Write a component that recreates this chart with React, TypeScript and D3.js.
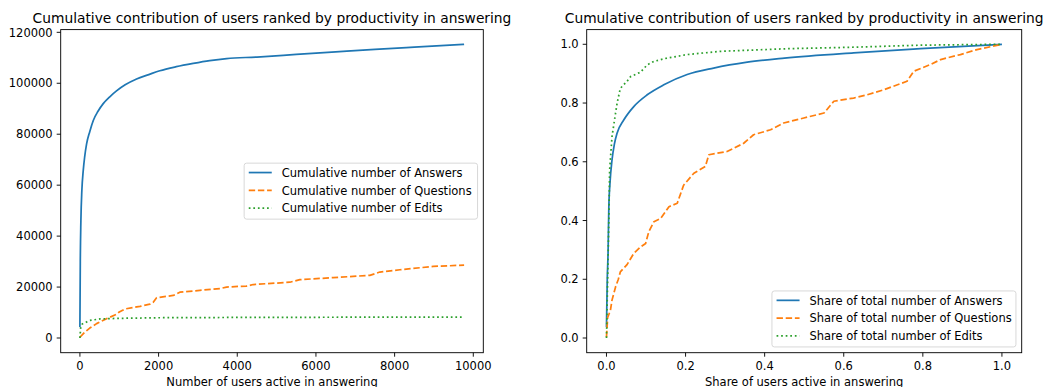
import React from 'react';
import * as d3 from 'd3';

type P = [number, number];

// ---- Left panel: cumulative counts vs number of users ----
const cumAnswers: P[] = [
  [0, 4300], [10, 30000], [25, 46000], [50, 58000], [85, 65800], [120, 71000], [170, 76200],
  [250, 81000], [340, 85400], [460, 89000], [593, 92000], [760, 94700], [930, 97000],
  [1150, 99400], [1440, 101700], [1750, 103400], [2030, 104900], [2450, 106500], [2880, 107800],
  [3300, 108900], [3730, 109700], [4500, 110300], [5500, 111300], [6500, 112300], [7500, 113300],
  [8500, 114200], [9766, 115300],
];
const cumQuestions: P[] = [
  [0, 300], [127, 2350], [250, 3900], [424, 5650], [678, 7600], [932, 9300], [1000, 10200],
  [1144, 11400], [1525, 12400], [1780, 13300], [1864, 14000], [1949, 15800], [2372, 16700],
  [2541, 18000], [3050, 18700], [3558, 19400], [3727, 20000], [4235, 20400], [4405, 21000],
  [5337, 21900], [5591, 22900], [6438, 23700], [7370, 24600], [7624, 25900], [8132, 26800],
  [8979, 28100], [9766, 28600],
];
const cumEdits: P[] = [
  [0, 0], [20, 4300], [60, 5500], [170, 6300], [254, 6900], [508, 7500], [975, 7720],
  [1950, 7950], [4400, 8100], [9766, 8240],
];

// ---- Right panel: shares ----
const shareAnswers: P[] = [
  [0, 0.0375], [0.002, 0.2], [0.004, 0.288], [0.006, 0.447], [0.009, 0.53], [0.014, 0.606],
  [0.02, 0.66], [0.027, 0.698], [0.044, 0.743], [0.069, 0.788], [0.103, 0.828], [0.145, 0.862],
  [0.204, 0.897], [0.271, 0.919], [0.356, 0.939], [0.45, 0.953], [0.625, 0.971], [0.794, 0.985],
  [1, 1],
];
const shareQuestions: P[] = [
  [0, 0.003], [0.003, 0.07], [0.01, 0.094], [0.014, 0.129], [0.023, 0.174], [0.03, 0.2],
  [0.035, 0.225], [0.052, 0.25], [0.069, 0.288], [0.086, 0.31], [0.099, 0.322], [0.107, 0.362],
  [0.12, 0.396], [0.137, 0.407], [0.158, 0.447], [0.179, 0.459], [0.195, 0.52], [0.221, 0.561],
  [0.25, 0.584], [0.259, 0.624], [0.305, 0.635], [0.347, 0.663], [0.372, 0.692], [0.415, 0.709],
  [0.448, 0.732], [0.499, 0.749], [0.55, 0.766], [0.575, 0.806], [0.625, 0.817], [0.659, 0.828],
  [0.701, 0.845], [0.76, 0.874], [0.777, 0.908], [0.819, 0.931], [0.845, 0.948], [0.895, 0.965],
  [0.937, 0.982], [1, 1],
];
const shareEdits: P[] = [
  [0, 0], [0.0017, 0.117], [0.006, 0.4], [0.008, 0.572], [0.014, 0.686], [0.023, 0.766],
  [0.027, 0.8], [0.035, 0.85], [0.052, 0.874], [0.061, 0.89], [0.086, 0.905], [0.103, 0.93],
  [0.12, 0.942], [0.153, 0.953], [0.204, 0.965], [0.288, 0.976], [0.457, 0.985], [0.625, 0.99],
  [0.794, 0.997], [1, 1],
];

const leftXTicks = [0, 2000, 4000, 6000, 8000, 10000];
const leftYTicks = [0, 20000, 40000, 60000, 80000, 100000, 120000];
const rightTicks = [0, 0.2, 0.4, 0.6, 0.8, 1.0];

const leftLabels = ['Cumulative number of Answers', 'Cumulative number of Questions', 'Cumulative number of Edits'];
const rightLabels = ['Share of total number of Answers', 'Share of total number of Questions', 'Share of total number of Edits'];
const colors = ['#1f77b4', '#ff7f0e', '#2ca02c'];
const dashes = ['none', '6.4,2.76', '1.72,2.85'];
const chartTitle = 'Cumulative contribution of users ranked by productivity in answering';
const leftXLabel = 'Number of users active in answering';
const rightXLabel = 'Share of users active in answering';

const FONT = '"DejaVu Sans", sans-serif';
const FS = 11.5;
const LW = 1.725;
const SW = 0.92;

type Box = { x0: number; x1: number; y0: number; y1: number };

function Panel(props: {
  box: Box;
  series: P[][];
  smooth: boolean[];
  xTicks: number[];
  yTicks: number[];
  fmt: (v: number) => string;
  title: string;
  xLabel: string;
  labels: string[];
  legendW: number;
  legendLoc: 'center right' | 'lower right';
}) {
  const { box, series, smooth, xTicks, yTicks, fmt, title, xLabel, labels, legendW, legendLoc } = props;
  const all = series.flat();
  const [xmin, xmax] = d3.extent(all, (d) => d[0]) as [number, number];
  const [ymin, ymax] = d3.extent(all, (d) => d[1]) as [number, number];
  const xp = (xmax - xmin) * 0.05;
  const yp = (ymax - ymin) * 0.05;
  const x = d3.scaleLinear().domain([xmin - xp, xmax + xp]).range([box.x0, box.x1]);
  const y = d3.scaleLinear().domain([ymin - yp, ymax + yp]).range([box.y1, box.y0]);

  const lineSmooth = d3.line<P>().x((d) => x(d[0])).y((d) => y(d[1])).curve(d3.curveMonotoneX);
  const lineLin = d3.line<P>().x((d) => x(d[0])).y((d) => y(d[1]));

  const lh = 56;
  const lx = box.x1 - 5.75 - legendW;
  const ly = legendLoc === 'center right' ? (box.y0 + box.y1) / 2 - lh / 2 : box.y1 - 5.75 - lh;
  const rows = [9.4, 27.2, 44.9];
  const cx = (box.x0 + box.x1) / 2;
  const tick = 4.0;

  return (
    <g>
      <text x={cx} y={22.9} textAnchor="middle" fontSize={13.8} fill="#000" fontFamily={FONT}>
        {title}
      </text>
      {series.map((s, i) => (
        <path
          key={i}
          d={(smooth[i] ? lineSmooth : lineLin)(s) || ''}
          fill="none"
          stroke={colors[i]}
          strokeWidth={LW}
          strokeDasharray={dashes[i]}
          strokeLinejoin="round"
        />
      ))}
      <rect x={box.x0} y={box.y0} width={box.x1 - box.x0} height={box.y1 - box.y0} fill="none" stroke="#000" strokeWidth={SW} />
      {xTicks.map((t) => (
        <g key={'x' + t}>
          <line x1={x(t)} x2={x(t)} y1={box.y1} y2={box.y1 + tick} stroke="#000" strokeWidth={SW} />
          <text x={x(t)} y={box.y1 + 16.8} textAnchor="middle" fontSize={FS} fill="#000" fontFamily={FONT}>
            {fmt(t)}
          </text>
        </g>
      ))}
      {yTicks.map((t) => (
        <g key={'y' + t}>
          <line x1={box.x0 - tick} x2={box.x0} y1={y(t)} y2={y(t)} stroke="#000" strokeWidth={SW} />
          <text x={box.x0 - 8} y={y(t) + 4.2} textAnchor="end" fontSize={FS} fill="#000" fontFamily={FONT}>
            {fmt(t)}
          </text>
        </g>
      ))}
      <text x={cx} y={386} textAnchor="middle" fontSize={FS} fill="#000" fontFamily={FONT}>
        {xLabel}
      </text>
      <rect x={lx} y={ly} width={legendW} height={lh} rx={2.5} ry={2.5} fill="#fff" fillOpacity={0.8} stroke="#d4d4d4" strokeWidth={SW} />
      {labels.map((lab, i) => (
        <g key={lab}>
          <line x1={lx + 4.6} x2={lx + 27.6} y1={ly + rows[i]} y2={ly + rows[i]} stroke={colors[i]} strokeWidth={LW} strokeDasharray={dashes[i]} />
          <text x={lx + 37.5} y={ly + rows[i] + 4.2} fontSize={FS} fill="#000" fontFamily={FONT}>
            {lab}
          </text>
        </g>
      ))}
    </g>
  );
}

export default function App() {
  const leftBox: Box = { x0: 60.7, x1: 483.3, y0: 29.6, y1: 352.7 };
  const rightBox: Box = { x0: 586.7, x1: 1021.7, y0: 29.6, y1: 352.7 };
  return (
    <svg width={1048} height={387} style={{ position: 'absolute', left: 0, top: 0, background: '#fff' }}>
      <rect x={0} y={0} width={1048} height={387} fill="#fff" />
      <Panel
        box={leftBox}
        series={[cumAnswers, cumQuestions, cumEdits]}
        smooth={[true, false, false]}
        xTicks={leftXTicks}
        yTicks={leftYTicks}
        fmt={(v) => String(v)}
        title={chartTitle}
        xLabel={leftXLabel}
        labels={leftLabels}
        legendW={233.4}
        legendLoc="center right"
      />
      <Panel
        box={rightBox}
        series={[shareAnswers, shareQuestions, shareEdits]}
        smooth={[true, false, false]}
        xTicks={rightTicks}
        yTicks={rightTicks}
        fmt={(v) => v.toFixed(1)}
        title={chartTitle}
        xLabel={rightXLabel}
        labels={rightLabels}
        legendW={244}
        legendLoc="lower right"
      />
    </svg>
  );
}
